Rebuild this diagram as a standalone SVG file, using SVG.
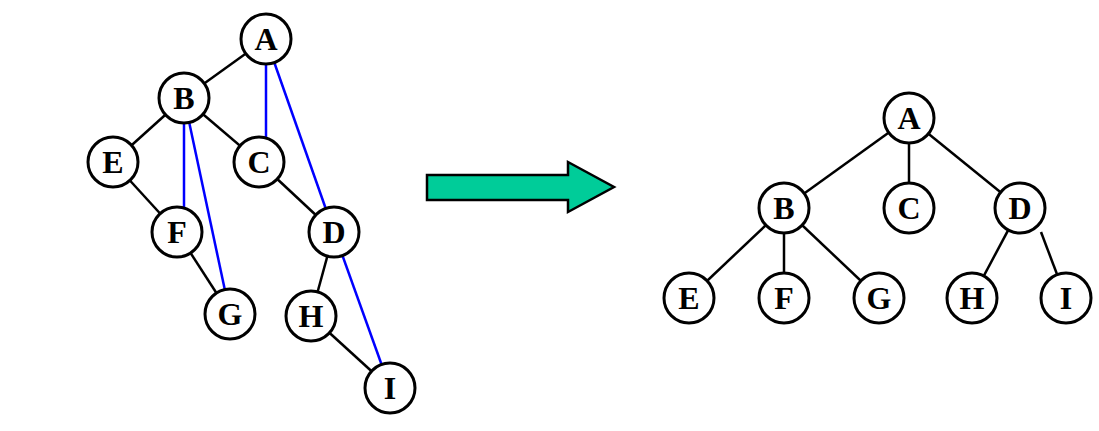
<svg xmlns="http://www.w3.org/2000/svg" width="1099" height="431" viewBox="0 0 1099 431">
<style>
.n circle{fill:#fff;stroke:#000;stroke-width:3}
.n text{font-family:"Liberation Serif",serif;font-weight:bold;font-size:32px;text-anchor:middle}
.k{stroke:#000;stroke-width:2.5}
.b{stroke:#0000ff;stroke-width:2.5}
</style>
<rect width="1099" height="431" fill="#fff"/>
<g id="connectors">
<line class="k" x1="266" y1="39" x2="184" y2="98"/>
<line class="k" x1="184" y1="98" x2="113" y2="162"/>
<line class="k" x1="184" y1="98" x2="259" y2="162"/>
<line class="k" x1="113" y1="162" x2="177" y2="232"/>
<line class="k" x1="177" y1="232" x2="230" y2="314"/>
<line class="k" x1="259" y1="162" x2="334" y2="232"/>
<line class="k" x1="334" y1="232" x2="311" y2="316"/>
<line class="k" x1="311" y1="316" x2="390" y2="388"/>
<line class="b" x1="266" y1="39" x2="266" y2="162"/>
<line class="b" x1="266" y1="39" x2="334" y2="232"/>
<line class="b" x1="184" y1="98" x2="184" y2="232"/>
<line class="b" x1="184" y1="98" x2="230" y2="314"/>
<line class="b" x1="334" y1="232" x2="390" y2="388"/>
<line class="k" x1="909" y1="118" x2="784" y2="208"/>
<line class="k" x1="909" y1="118" x2="909" y2="208"/>
<line class="k" x1="909" y1="118" x2="1020" y2="208"/>
<line class="k" x1="784" y1="208" x2="689" y2="298"/>
<line class="k" x1="784" y1="208" x2="784" y2="298"/>
<line class="k" x1="784" y1="208" x2="879" y2="298"/>
<line class="k" x1="1020" y1="208" x2="972" y2="298"/>
<line class="k" x1="1041" y1="232" x2="1066" y2="298"/>
</g>
<polygon points="427,175 568,175 568,162 614,187 568,212 568,200 427,200" fill="#00CC99" stroke="#000" stroke-width="2.5"/>
<g id="LA" class="n"><circle cx="266" cy="39" r="25"/><text x="266" y="50">A</text></g>
<g id="LB" class="n"><circle cx="184" cy="98" r="25"/><text x="184" y="109">B</text></g>
<g id="LE" class="n"><circle cx="113" cy="162" r="25"/><text x="113" y="173">E</text></g>
<g id="LC" class="n"><circle cx="259" cy="162" r="25"/><text x="259" y="173">C</text></g>
<g id="LF" class="n"><circle cx="177" cy="232" r="25"/><text x="177" y="243">F</text></g>
<g id="LD" class="n"><circle cx="334" cy="232" r="25"/><text x="334" y="243">D</text></g>
<g id="LG" class="n"><circle cx="230" cy="314" r="25"/><text x="230" y="325">G</text></g>
<g id="LH" class="n"><circle cx="311" cy="316" r="25"/><text x="311" y="327">H</text></g>
<g id="LI" class="n"><circle cx="390" cy="388" r="25"/><text x="390" y="399">I</text></g>
<g id="RA" class="n"><circle cx="909" cy="118" r="25"/><text x="909" y="129">A</text></g>
<g id="RB" class="n"><circle cx="784" cy="208" r="25"/><text x="784" y="219">B</text></g>
<g id="RC" class="n"><circle cx="909" cy="208" r="25"/><text x="909" y="219">C</text></g>
<g id="RD" class="n"><circle cx="1020" cy="208" r="25"/><text x="1020" y="219">D</text></g>
<g id="RE" class="n"><circle cx="689" cy="298" r="25"/><text x="689" y="309">E</text></g>
<g id="RF" class="n"><circle cx="784" cy="298" r="25"/><text x="784" y="309">F</text></g>
<g id="RG" class="n"><circle cx="879" cy="298" r="25"/><text x="879" y="309">G</text></g>
<g id="RH" class="n"><circle cx="972" cy="298" r="25"/><text x="972" y="309">H</text></g>
<g id="RI" class="n"><circle cx="1066" cy="298" r="25"/><text x="1066" y="309">I</text></g>
</svg>
